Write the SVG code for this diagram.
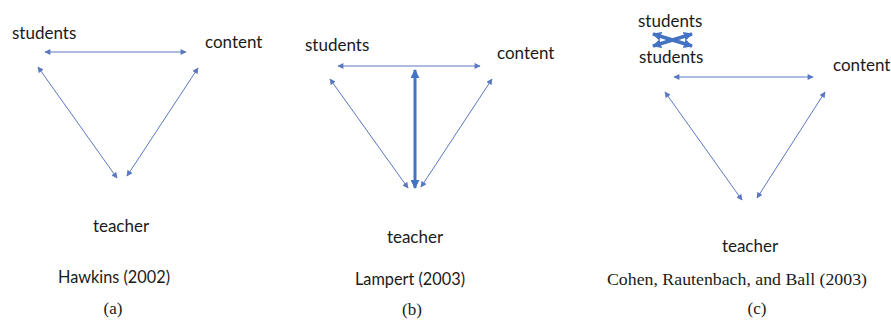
<svg xmlns="http://www.w3.org/2000/svg" width="891" height="320" viewBox="0 0 891 320">
<defs>
<style>
.lbl{font-family:Lato,"Liberation Sans",sans-serif;font-size:17px;fill:#1a1a1a}
.cap{font-family:Lato,"Liberation Sans",sans-serif;font-size:17px;fill:#1a1a1a}
.ser{font-family:"Liberation Serif",serif;font-size:17px;fill:#1a1a1a}
.thin{stroke:#5a78c0;stroke-width:1;fill:none;marker-start:url(#ah);marker-end:url(#ah)}
.thick{stroke:#4472c4;stroke-width:3;fill:none;marker-start:url(#ahb);marker-end:url(#ahb)}
</style>
<marker id="ah" viewBox="0 0 10 10" refX="9" refY="5" markerWidth="7" markerHeight="6" orient="auto-start-reverse" markerUnits="userSpaceOnUse">
<path d="M0,0 L10,5 L0,10 z" fill="#5a78c0"/>
</marker>
<marker id="ahb" viewBox="0 0 10 10" refX="9" refY="5" markerWidth="9" markerHeight="9" orient="auto-start-reverse" markerUnits="userSpaceOnUse">
<path d="M0,0 L10,5 L0,10 z" fill="#4472c4"/>
</marker>
</defs>
<rect width="891" height="320" fill="#ffffff"/>
<g id="connectors">
<line class="thin" x1="45" y1="52" x2="186" y2="52"/>
<line class="thin" x1="38" y1="67" x2="117" y2="178"/>
<line class="thin" x1="198" y1="68" x2="127" y2="176"/>
<line class="thin" x1="338" y1="66" x2="480" y2="66"/>
<line class="thin" x1="330" y1="79" x2="408" y2="188"/>
<line class="thin" x1="492" y1="79" x2="421" y2="187"/>
<line class="thick" x1="415" y1="70" x2="415" y2="188"/>
<line class="thin" x1="674" y1="77" x2="813" y2="77"/>
<line class="thin" x1="665" y1="92" x2="742" y2="200"/>
<line class="thin" x1="825" y1="92" x2="757" y2="198"/>
<line class="thick" x1="653" y1="34" x2="692" y2="46" style="stroke-width:3.5"/>
<line class="thick" x1="653" y1="46" x2="692" y2="34" style="stroke-width:3.5"/>
</g>
<g id="a-students"><text class="lbl" x="12" y="39">students</text></g>
<g id="a-content"><text class="lbl" x="205" y="48">content</text></g>
<g id="a-teacher"><text class="lbl" x="121" y="232" text-anchor="middle">teacher</text></g>
<g id="a-caption"><text class="cap" x="114" y="283" text-anchor="middle" textLength="112" lengthAdjust="spacingAndGlyphs">Hawkins (2002)</text><text class="ser" x="113" y="314" text-anchor="middle">(a)</text></g>
<g id="b-students"><text class="lbl" x="305" y="51">students</text></g>
<g id="b-content"><text class="lbl" x="497" y="59">content</text></g>
<g id="b-teacher"><text class="lbl" x="415" y="243" text-anchor="middle">teacher</text></g>
<g id="b-caption"><text class="cap" x="410" y="285" text-anchor="middle" textLength="110" lengthAdjust="spacingAndGlyphs">Lampert (2003)</text><text class="ser" x="412" y="315" text-anchor="middle">(b)</text></g>
<g id="c-students1"><text class="lbl" x="638" y="27">students</text></g>
<g id="c-students2"><text class="lbl" x="639" y="63">students</text></g>
<g id="c-content"><text class="lbl" x="833" y="71">content</text></g>
<g id="c-teacher"><text class="lbl" x="750" y="252" text-anchor="middle">teacher</text></g>
<g id="c-caption"><text class="ser" x="737" y="285" text-anchor="middle" textLength="260" lengthAdjust="spacingAndGlyphs">Cohen, Rautenbach, and Ball (2003)</text><text class="ser" x="757" y="314" text-anchor="middle">(c)</text></g>
</svg>
